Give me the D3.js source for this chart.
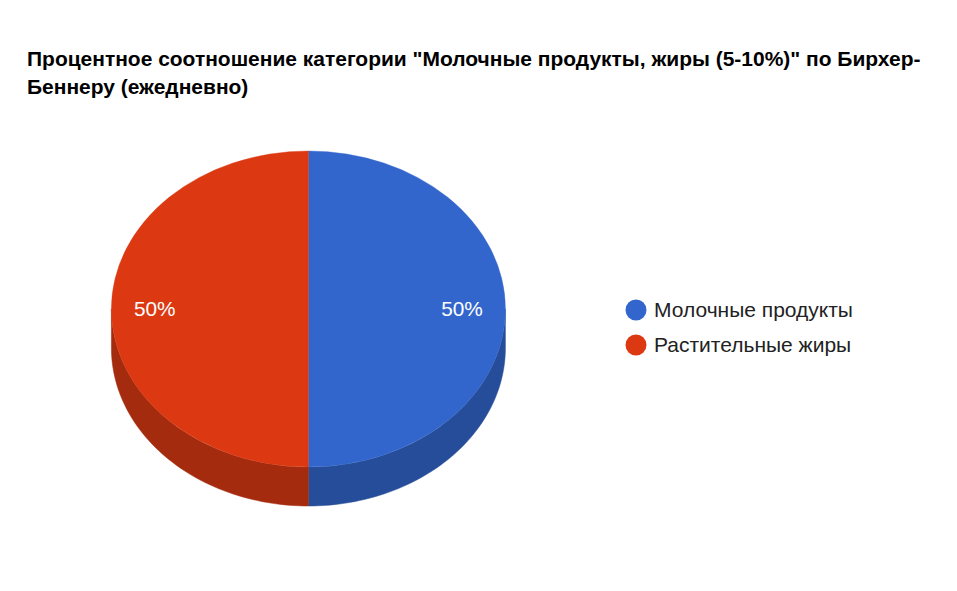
<!DOCTYPE html>
<html>
<head>
<meta charset="utf-8">
<script src="https://cdn.jsdelivr.net/npm/d3@7"></script>
<style>
    html, body { margin: 0; padding: 0; background: #fff; }
    svg { display: block; }
    text { font-family: "Liberation Sans", Arial, sans-serif; }
</style>
</head>
<body>
<script>
var categories = ["Молочные продукты", "Растительные жиры"];
var values = [50, 50];
var colors = ["#3366cc", "#dc3912"];
var sideColors = ["#264d99", "#a52b0e"];
var titleLines = ["Процентное соотношение категории \"Молочные продукты, жиры (5-10%)\" по Бирхер-", "Беннеру (ежедневно)"];

var width = 957,
    height = 591,
    cx = 308.4,
    cy = 309,
    rx = 197,
    ry = 158,
    depth = 39;

var svg = d3.select("body")
    .append("svg")
    .attr("width", width)
    .attr("height", height);

svg.append("rect")
    .attr("width", width)
    .attr("height", height)
    .attr("fill", "#fff");

// title
svg.selectAll(".title")
    .data(titleLines)
    .enter()
    .append("text")
    .attr("class", "title")
    .attr("x", 27)
    .attr("y", function (d, i) { return 66 + i * 28; })
    .attr("font-size", 20.98)
    .attr("font-weight", "bold")
    .attr("fill", "#000")
    .text(function (d) { return d; });

var pie = d3.pie().sort(null);
var slices = pie(values);

// unit circle slices, stretched to an ellipse by the transform
var arc = d3.arc().innerRadius(0).outerRadius(1);

var side = d3.area()
    .x(function (a) { return cx + rx * Math.sin(a); })
    .y0(function (a) { return cy - ry * Math.cos(a); })
    .y1(function (a) { return cy - ry * Math.cos(a) + depth; });

// only the front half of the rim is visible
var sideGroup = svg.append("g");
slices.forEach(function (d, i) {
    var from = Math.max(d.startAngle, Math.PI / 2),
        to = Math.min(d.endAngle, Math.PI * 1.5);
    if (from >= to) return;
    var steps = d3.range(0, 61).map(function (k) {
        return from + (to - from) * k / 60;
    });
    sideGroup.append("path")
        .attr("d", side(steps))
        .attr("fill", sideColors[i])
        .attr("stroke", sideColors[i])
        .attr("stroke-width", 0.5);
});

var top_ = svg.append("g")
    .attr("transform", "translate(" + [cx, cy] + ")scale(" + [rx, ry] + ")");

// thin own-colour stroke closes the seam between the two halves
top_.selectAll("path")
    .data(slices)
    .enter()
    .append("path")
    .attr("d", arc)
    .attr("fill", function (d, i) { return colors[i]; })
    .attr("stroke", function (d, i) { return colors[i]; })
    .attr("stroke-width", 0.4)
    .attr("vector-effect", "non-scaling-stroke");

// slice labels sit out near the rim
var labelRadius = 0.78;
svg.selectAll(".label")
    .data(slices)
    .enter()
    .append("text")
    .attr("class", "label")
    .attr("x", function (d) {
        return cx + rx * labelRadius * Math.sin((d.startAngle + d.endAngle) / 2);
    })
    .attr("y", function (d) {
        return cy - ry * labelRadius * Math.cos((d.startAngle + d.endAngle) / 2) + 7;
    })
    .attr("text-anchor", "middle")
    .attr("font-size", 20.8)
    .attr("fill", "#fff")
    .text(function (d) { return d.data + "%"; });

// legend
var legend = svg.selectAll(".legend")
    .data(categories)
    .enter()
    .append("g")
    .attr("class", "legend")
    .attr("transform", function (d, i) {
        return "translate(" + [636, 310 + i * 35] + ")";
    });

legend.append("circle")
    .attr("r", 10.5)
    .attr("fill", function (d, i) { return colors[i]; });

legend.append("text")
    .attr("x", 18)
    .attr("y", 7)
    .attr("font-size", 21)
    .attr("fill", "#222")
    .text(function (d) { return d; });
</script>
</body>
</html>
